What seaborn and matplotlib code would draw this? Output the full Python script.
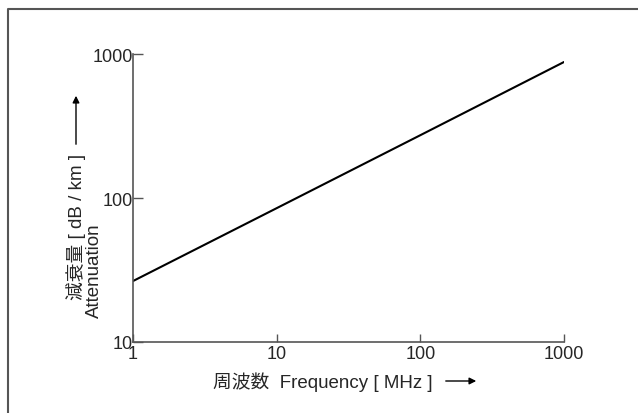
import matplotlib
matplotlib.use("Agg")
import matplotlib.pyplot as plt
from matplotlib.lines import Line2D
import seaborn as sns

sns.set_style("white")
plt.rcParams['font.family'] = ['Liberation Sans', 'Noto Sans CJK JP', 'DejaVu Sans']

# data
freq = [1, 10, 100, 1000]
atten = [26.5, 85, 273, 880]
xticks = [1, 10, 100, 1000]
yticks = [10, 100, 1000]
xlabel = "周波数  Frequency [ MHz ]"
ylabel_jp = "減衰量 [ dB / km ]"
ylabel_en = "Attenuation"

W, H = 638, 414
fig = plt.figure(figsize=(W / 100, H / 100), dpi=100)


def fx(px):
    return px / W


def fy(py):
    return 1 - py / H


ax = fig.add_axes([fx(133), fy(343), fx(564) - fx(133), fy(55) - fy(343)])
sns.lineplot(x=freq, y=atten, color='black', linewidth=1.5, ax=ax)
ax.set_xscale('log')
ax.set_yscale('log')
ax.set_xlim(1, 1000)
ax.set_ylim(10, 1000)
ax.set_xticks(xticks)
ax.set_xticklabels([str(t) for t in xticks])
ax.set_yticks(yticks)
ax.set_yticklabels([str(t) for t in yticks])
ax.minorticks_off()

for s in ['top', 'right']:
    ax.spines[s].set_visible(False)
for s in ['left', 'bottom']:
    ax.spines[s].set_color('#555555')
    ax.spines[s].set_linewidth(1.2)

ax.tick_params(axis='y', direction='in', length=7, width=1, color='#555555',
               labelsize=13, pad=0, left=True)
ax.tick_params(axis='x', direction='in', length=6, width=1, color='#555555',
               labelsize=13, pad=2, bottom=True)
ax.set_xlabel('')
ax.set_ylabel('')

# outer frame (left and top edges)
fig.add_artist(Line2D([fx(8), fx(8), 1.0], [0.0, fy(10), fy(10)],
                      color='#555555', linewidth=1.5))

# axis titles
arrow = dict(arrowstyle='-|>', color='black', lw=1, mutation_scale=10)
fig.text(fx(323), fy(382), xlabel, ha='center', va='center', fontsize=13.5)
ax.annotate('', xy=(fx(479), fy(382)), xytext=(fx(443), fy(382)),
            xycoords='figure fraction', textcoords='figure fraction',
            arrowprops=arrow, annotation_clip=False)

fig.text(fx(76), fy(300), ylabel_jp, rotation=90, ha='center', va='bottom',
         fontsize=13.5)
fig.text(fx(94), fy(318), ylabel_en, rotation=90, ha='center', va='bottom',
         fontsize=13.5)
ax.annotate('', xy=(fx(76), fy(94)), xytext=(fx(76), fy(148)),
            xycoords='figure fraction', textcoords='figure fraction',
            arrowprops=arrow, annotation_clip=False)

fig.savefig('out.png', dpi=100)
